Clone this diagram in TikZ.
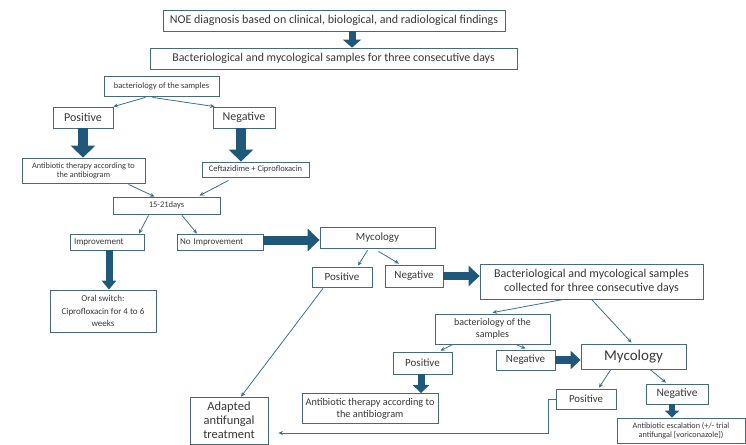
\documentclass[tikz,border=0pt]{standalone}
\usepackage{fontspec}
\setmainfont{Carlito}
\usetikzlibrary{arrows.meta,calc}
\definecolor{boxc}{HTML}{46697C}
\definecolor{fatc}{HTML}{1F5878}
\definecolor{arrc}{HTML}{3F6F86}
\definecolor{txt}{HTML}{383838}
\tikzset{
  box/.style={draw=boxc, line width=0.8pt, fill=white, align=center, inner sep=0pt, text=txt},
  wh/.style 2 args={minimum width=#1, minimum height=#2},
  thinarr/.style={draw=arrc, line width=0.8pt, -{Stealth[length=4.5pt,width=4pt]}},
  fatarr/.style n args={3}{draw=fatc, line width=#1, -{Triangle[width=#2,length=#3]}},
}
\newcommand{\fsz}[2]{\fontsize{#1}{#2}\selectfont}
\begin{document}
\begin{tikzpicture}[x=1pt,y=-1pt]
\useasboundingbox[fill=white] (0,0) rectangle (746,444);

% top
\node[box, wh={342pt}{21pt}, font=\fsz{12}{14}] (noe) at (334,20.5) {NOE diagnosis based on clinical, biological, and radiological findings};
\node[box, wh={367pt}{21pt}, font=\fsz{11.9}{14}] (bact1) at (333.5,58.5) {Bacteriological and mycological samples for three consecutive days};
\node[box, wh={115pt}{20pt}, font=\fsz{8.5}{10}] (bs1) at (161.5,86) {bacteriology of the samples};
\node[box, wh={60pt}{21pt}, font=\fsz{12}{14}] (pos1) at (83,117.5) {Positive};
\node[box, wh={62pt}{21pt}, font=\fsz{12}{14}] (neg1) at (244,117.5) {Negative};
\node[box, wh={123pt}{25pt}, font=\fsz{8.2}{9}] (abt1) at (83.5,170.5) {Antibiotic therapy according to\\the antibiogram};
\node[box, wh={107pt}{15pt}, font=\fsz{8.5}{10}] (cef) at (255.5,169.5) {Ceftazidime + Ciprofloxacin};
\node[box, wh={107pt}{17pt}, font=\fsz{8.5}{10}] (d15) at (166.5,205.5) {15-21days};
\node[box, wh={74pt}{16pt}, font=\fsz{9}{10}, text width=66pt, align=left, inner xsep=4pt] (imp) at (107,242) {Improvement};
\node[box, wh={86pt}{16pt}, font=\fsz{9}{10}, text width=80pt, align=left, inner xsep=3pt] (noimp) at (220,242) {No Improvement};
\node[box, wh={106pt}{42pt}, font=\fsz{9}{12.5}] (oral) at (103,311) {Oral switch:\\Ciprofloxacin for 4 to 6\\weeks};
\node[box, wh={115pt}{21pt}, font=\fsz{11}{13}] (myc1) at (377.5,237.5) {Mycology};
\node[box, wh={60pt}{20pt}, font=\fsz{11}{13}] (pos2) at (342,277) {Positive};
\node[box, wh={58pt}{22pt}, font=\fsz{11}{13}] (neg2) at (414,276) {Negative};
\node[box, wh={223pt}{35pt}, font=\fsz{12}{13.5}] (bact2) at (591.5,281.5) {Bacteriological and mycological samples\\collected for three consecutive days};
\node[box, wh={115pt}{30pt}, font=\fsz{10}{12}] (bs2) at (492.5,329) {bacteriology of the\\samples};
\node[box, wh={59pt}{22pt}, font=\fsz{11}{13}] (pos3) at (422.5,363) {Positive};
\node[box, wh={59pt}{20pt}, font=\fsz{11}{13}] (neg3) at (525.5,360) {Negative};
\node[box, wh={105pt}{25pt}, font=\fsz{15}{17}] (myc2) at (633.5,356.5) {Mycology};
\node[box, wh={60pt}{20pt}, font=\fsz{10.8}{13}] (pos4) at (586,399) {Positive};
\node[box, wh={62pt}{20pt}, font=\fsz{11.5}{13}] (neg4) at (677,394) {Negative};
\node[box, wh={128pt}{25pt}, font=\fsz{8.2}{9}] (esc) at (681,430.5) {Antibiotic escalation (+/- trial\\antifungal [voriconazole])};
\node[box, wh={136pt}{30pt}, font=\fsz{10.3}{12}] (abt3) at (370,408.5) {Antibiotic therapy according to\\the antibiogram};
\node[box, wh={78pt}{47pt}, font=\fsz{12.5}{14}] (adapt) at (229,420.5) {Adapted\\antifungal\\treatment};

% fat arrows
\draw[fatarr={7pt}{18pt}{8pt}] ($(noe.south)+(18,0)$) -- ($(noe.south |- bact1.north)+(18,0)$);
\draw[fatarr={10pt}{24pt}{12pt}] (pos1.south) -- (pos1.south |- abt1.north);
\draw[fatarr={10pt}{24pt}{12pt}] ($(neg1.south)+(-3,0)$) -- ($(neg1.south |- cef.north)+(-3,0)$);
\draw[fatarr={7pt}{14pt}{9pt}] ($(imp.south)+(2,0)$) -- ($(imp.south |- oral.north)+(2,0)$);
\draw[fatarr={9pt}{22pt}{12pt}] ($(noimp.east)+(0,-2)$) -- ($(noimp.east -| myc1.west)+(0,-2)$);
\draw[fatarr={8pt}{20pt}{11pt}] (neg2.east) -- (neg2.east -| bact2.west);
\draw[fatarr={8pt}{18pt}{10pt}] (neg3.east) -- (neg3.east -| myc2.west);
\draw[fatarr={7pt}{16pt}{8pt}] ($(pos3.south)+(-1.5,0)$) -- ($(pos3.south |- abt3.north)+(-1.5,0)$);
\draw[fatarr={6pt}{14pt}{7pt}] ($(neg4.south)+(-5,0)$) -- ($(neg4.south |- esc.north)+(-5,0)$);

% thin arrows
\draw[thinarr] ($(bs1.south)+(-16,1)$) -- (pos1.north east);
\draw[thinarr] ($(bs1.south)+(-9,1)$) -- ($(neg1.north west)+(2,0)$);
\draw[thinarr] ($(abt1.south)+(45,1)$) -- ($(d15.north)+(-12,0)$);
\draw[thinarr] ($(cef.south)+(-27,3)$) -- ($(d15.north)+(33,-1)$);
\draw[thinarr] ($(d15.south)+(-18,1)$) -- ($(imp.north)+(32,0)$);
\draw[thinarr] ($(d15.south)+(15.5,1)$) -- ($(noimp.north)+(-23,0)$);
\draw[thinarr] ($(myc1.south)+(-10,2)$) -- ($(pos2.north)+(16,-1)$);
\draw[thinarr] ($(myc1.south)+(1,3)$) -- ($(neg2.north)+(-15,-1)$);
\draw[thinarr] ($(pos2.south)+(-19,1)$) -- ($(adapt.north)+(12,0)$);
\draw[thinarr] ($(bact2.south)+(-28,0)$) -- ($(bs2.north)+(0,-1)$);
\draw[thinarr] (bact2.south) -- ($(myc2.north)+(-2,-1)$);
\draw[thinarr] ($(bs2.south)+(-39.5,0)$) -- ($(pos3.north)+(18,-1)$);
\draw[thinarr] ($(bs2.south)+(23.5,0)$) -- ($(neg3.north)+(0,-1)$);
\draw[thinarr] ($(myc2.south)+(-22.5,0)$) -- ($(pos4.north)+(13,-1)$);
\draw[thinarr] ($(myc2.south)+(16.5,0)$) -- ($(neg4.north)+(-11,-1)$);
\draw[thinarr] (pos4.west) -- ++(-7,0) |- ($(adapt.east)+(10,12.5)$);
\end{tikzpicture}
\end{document}
